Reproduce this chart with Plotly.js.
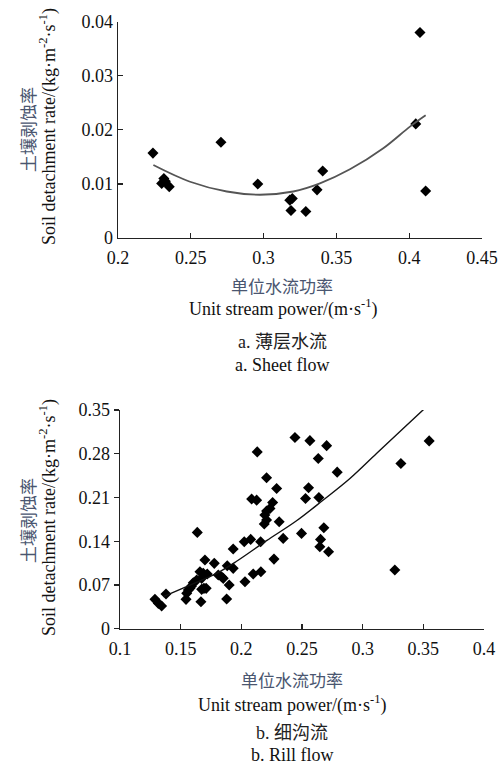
<!DOCTYPE html>
<html>
<head>
<meta charset="utf-8">
<script src="https://cdn.plot.ly/plotly-3.0.1.min.js"></script>
<style>html,body{margin:0;padding:0;background:#fff;}#chart{width:503px;height:767px;}</style>
</head>
<body>
<div id="chart"></div>
<script>
// a. Sheet flow
const sheetX = [0.224, 0.2300, 0.2315, 0.2325, 0.2352, 0.2707, 0.296, 0.3180, 0.3197, 0.3188, 0.3290, 0.3367, 0.3406, 0.4045, 0.4074, 0.4113];
const sheetY = [0.0157, 0.0101, 0.0110, 0.0105, 0.0095, 0.0177, 0.0100, 0.0070, 0.0073, 0.0051, 0.0049, 0.0089, 0.0124, 0.0211, 0.0380, 0.0087];
const sheetFitX = [0.2243, 0.2495, 0.2747, 0.2975, 0.3204, 0.3387, 0.3593, 0.3822, 0.4005, 0.4113];
const sheetFitY = [0.0135, 0.0104, 0.0086, 0.0080, 0.0086, 0.0101, 0.0127, 0.0166, 0.0206, 0.0227];

// b. Rill flow
const rillX = [0.2442, 0.2565, 0.2703, 0.2634, 0.2131, 0.2790, 0.3548, 0.3315, 0.3265, 0.2208,
  0.2291, 0.2554, 0.2529, 0.2639, 0.2085, 0.2126, 0.2258, 0.2236, 0.2208, 0.2194,
  0.2208, 0.2189, 0.2312, 0.2496, 0.2680, 0.2653, 0.2647, 0.2719, 0.2345, 0.2159,
  0.2077, 0.2024, 0.1933, 0.2269, 0.1637, 0.1700, 0.1777, 0.1884, 0.1933, 0.2161,
  0.2098, 0.2030, 0.1900, 0.1879, 0.1667, 0.1692, 0.1673, 0.1837, 0.1810, 0.1686,
  0.1719, 0.1659, 0.1673, 0.1632, 0.1604, 0.1590, 0.1563, 0.1550, 0.1544, 0.1379,
  0.1288, 0.1316, 0.1343, 0.1577, 0.1710, 0.1851];
const rillY = [0.306, 0.301, 0.293, 0.2725, 0.283, 0.2506, 0.3006, 0.2645, 0.094, 0.2415,
  0.2245, 0.2255, 0.2085, 0.210, 0.2075, 0.2058, 0.202, 0.1926, 0.1883, 0.1819,
  0.174, 0.1675, 0.1712, 0.1526, 0.1616, 0.143, 0.1312, 0.1232, 0.1446, 0.1392,
  0.143, 0.1392, 0.1275, 0.1115, 0.1542, 0.110, 0.1047, 0.1009, 0.0967, 0.0913,
  0.0876, 0.0753, 0.070, 0.0476, 0.0433, 0.0647, 0.0631, 0.0833, 0.086, 0.0887,
  0.0876, 0.0913, 0.0807, 0.078, 0.0737, 0.0684, 0.062, 0.0567, 0.0471, 0.0556,
  0.0471, 0.0407, 0.0364, 0.0647, 0.0647, 0.0807];
const rillFitX = [0.1357, 0.1577, 0.1796, 0.1961, 0.2208, 0.2455, 0.2675, 0.2895, 0.3114, 0.3334, 0.3540];
const rillFitY = [0.0513, 0.070, 0.0887, 0.108, 0.141, 0.1728, 0.206, 0.2405, 0.2805, 0.3204, 0.3577];

// tick labels
const sheetXTicks = [0.2, 0.25, 0.3, 0.35, 0.4, 0.45];
const sheetXLabels = ["0.2", "0.25", "0.3", "0.35", "0.4", "0.45"];
const sheetYTicks = [0, 0.01, 0.02, 0.03, 0.04];
const sheetYLabels = ["0", "0.01", "0.02", "0.03", "0.04"];
const rillXTicks = [0.1, 0.15, 0.2, 0.25, 0.3, 0.35, 0.4];
const rillXLabels = ["0.1", "0.15", "0.2", "0.25", "0.3", "0.35", "0.4"];
const rillYTicks = [0, 0.07, 0.14, 0.21, 0.28, 0.35];
const rillYLabels = ["0", "0.07", "0.14", "0.21", "0.28", "0.35"];

const zhTitle = "单位水流功率";
const enXTitle = "Unit stream power/(m·s<sup>-1</sup>)";
const zhYTitle = "土壤剥蚀率";
const enYTitle = "Soil detachment rate/(kg·m<sup>-2</sup>·s<sup>-1</sup>)";
const captions = ["a. 薄层水流", "a. Sheet flow", "b. 细沟流", "b. Rill flow"];

const W = 503, H = 767;
const serif = "Liberation Serif, Times New Roman, serif";
const cjk = "Noto Sans CJK SC, sans-serif";
const mixed = "Liberation Serif, Noto Sans CJK SC, serif";
const zhColor = "#4a5670";

const marker = {symbol: "diamond", size: 8.5, color: "#000"};
const traces = [
  {x: sheetX, y: sheetY, xaxis: "x", yaxis: "y", mode: "markers", type: "scatter", marker: marker, hoverinfo: "skip"},
  {x: sheetFitX, y: sheetFitY, xaxis: "x", yaxis: "y", mode: "lines", type: "scatter", line: {color: "#555", width: 1.8, shape: "spline"}, hoverinfo: "skip"},
  {x: rillX, y: rillY, xaxis: "x2", yaxis: "y2", mode: "markers", type: "scatter", marker: marker, hoverinfo: "skip"},
  {x: rillFitX, y: rillFitY, xaxis: "x2", yaxis: "y2", mode: "lines", type: "scatter", line: {color: "#111", width: 1.4, shape: "spline"}, hoverinfo: "skip"}
];

function ax(extra) {
  return Object.assign({
    showgrid: false, zeroline: false, showline: true, linecolor: "#222", linewidth: 1.3,
    ticks: "inside", ticklen: 5, tickcolor: "#222", tickwidth: 1.2,
    tickfont: {family: serif, size: 18, color: "#111"}, tickmode: "array", fixedrange: true
  }, extra);
}

function px(x) { return x / W; }
function py(y) { return 1 - y / H; }

const annotations = [];
function addText(text, x, y, font, color, angle) {
  annotations.push({text: text, x: px(x), y: py(y), xref: "paper", yref: "paper", showarrow: false,
    xanchor: "center", yanchor: "middle", textangle: angle || 0,
    font: {family: font, size: font === cjk ? 17 : 18, color: color}});
}
// top chart titles
addText(zhTitle, 282, 285, cjk, zhColor);
addText(enXTitle, 283, 308, serif, "#111");
addText(captions[0], 282, 342, mixed, "#222");
addText(captions[1], 282, 365, serif, "#111");
addText(zhYTitle, 27, 130, cjk, zhColor, -90);
addText(enYTitle, 48, 127, serif, "#111", -90);
// bottom chart titles
addText(zhTitle, 292, 679, cjk, zhColor);
addText(enXTitle, 292, 704, serif, "#111");
addText(captions[2], 292, 733, mixed, "#222");
addText(captions[3], 292, 755, serif, "#111");
addText(zhYTitle, 27, 521, cjk, zhColor, -90);
addText(enYTitle, 48, 518, serif, "#111", -90);

const layout = {
  width: W, height: H, margin: {l: 0, r: 0, t: 0, b: 0},
  paper_bgcolor: "#fff", plot_bgcolor: "#fff", showlegend: false,
  xaxis: ax({domain: [px(118), px(482)], range: [0.2, 0.45], tickvals: sheetXTicks, ticktext: sheetXLabels, anchor: "y", ticklabelstandoff: 3}),
  yaxis: ax({domain: [py(238), py(21.7)], range: [0, 0.04], tickvals: sheetYTicks, ticktext: sheetYLabels, anchor: "x"}),
  xaxis2: ax({domain: [px(120), px(484)], range: [0.1, 0.4], tickvals: rillXTicks, ticktext: rillXLabels, anchor: "y2", ticklabelstandoff: 3}),
  yaxis2: ax({domain: [py(628.8), py(410)], range: [0, 0.35], tickvals: rillYTicks, ticktext: rillYLabels, anchor: "x2", ticks: "outside"}),
  annotations: annotations
};

Plotly.newPlot("chart", traces, layout, {staticPlot: true, displayModeBar: false});
</script>
</body>
</html>
